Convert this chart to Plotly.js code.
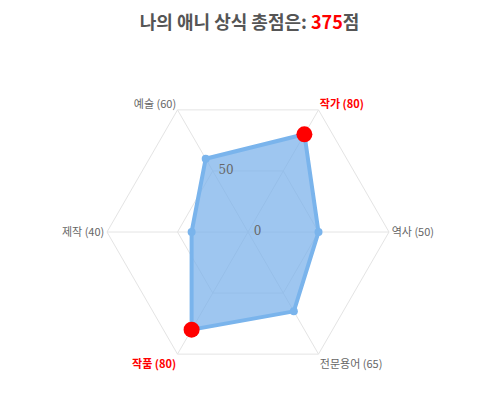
<!DOCTYPE html>
<html>
<head>
<meta charset="utf-8">
<script src="https://cdn.plot.ly/plotly-3.0.1.min.js"></script>
<style>html,body{margin:0;padding:0;background:#fff;}#chart{width:480px;height:409px;}</style>
</head>
<body>
<div id="chart"></div>
<script>
const categories = ["작가", "역사", "전문용어", "작품", "제작", "예술"];
const scores = [80, 50, 65, 80, 40, 60];
const radialTicks = [0, 50];

const total = scores.reduce((a, b) => a + b, 0);
const maxScore = Math.max(...scores);
const tickText = categories.map((c, i) => scores[i] === maxScore
  ? `<b><span style="color:red">${c} (${scores[i]})</span></b>`
  : `${c} (${scores[i]})`);

const closedCats = categories.concat([categories[0]]);
const closedScores = scores.concat([scores[0]]);

const maxCats = categories.filter((c, i) => scores[i] === maxScore);
const maxVals = scores.filter(v => v === maxScore);

const data = [
  {
    type: 'scatterpolar',
    r: closedScores,
    theta: closedCats,
    mode: 'lines+markers',
    fill: 'toself',
    fillcolor: 'rgba(120,176,234,0.72)',
    line: {color: 'rgb(122,180,236)', width: 4},
    marker: {color: 'rgb(122,180,236)', size: 8},
    hoverinfo: 'skip',
    showlegend: false
  },
  {
    type: 'scatterpolar',
    r: maxVals,
    theta: maxCats,
    mode: 'markers',
    marker: {color: 'red', size: 16},
    hoverinfo: 'skip',
    showlegend: false
  }
];

const layout = {
  width: 480,
  height: 409,
  margin: {l: 107, r: 91, t: 91, b: 36},
  paper_bgcolor: '#fff',
  font: {family: '"Noto Sans CJK KR", "Noto Sans", sans-serif', color: '#666'},
  title: {
    text: `<b>나의 애니 상식 총점은: <span style="color:red">${total}</span>점</b>`,
    x: 0.52, xanchor: 'center', y: 0.945, yanchor: 'middle',
    font: {size: 18, color: '#555'}
  },
  polar: {
    bgcolor: '#fff',
    gridshape: 'linear',
    radialaxis: {
      range: [0, 100],
      tickvals: radialTicks,
      ticktext: radialTicks.map(String),
      angle: 90,
      tickangle: 120,
      showline: false,
      gridcolor: '#e4e4e4',
      tickfont: {size: 12, color: '#666', family: '"DejaVu Serif", serif'},
      ticks: ''
    },
    angularaxis: {
      type: 'category',
      categoryarray: categories,
      tickvals: categories,
      ticktext: tickText,
      rotation: 60,
      direction: 'clockwise',
      linecolor: '#e4e4e4',
      gridcolor: '#e4e4e4',
      ticks: '',
      tickfont: {size: 11, color: '#666'}
    }
  }
};

Plotly.newPlot('chart', data, layout, {displayModeBar: false, staticPlot: true});
</script>
</body>
</html>
